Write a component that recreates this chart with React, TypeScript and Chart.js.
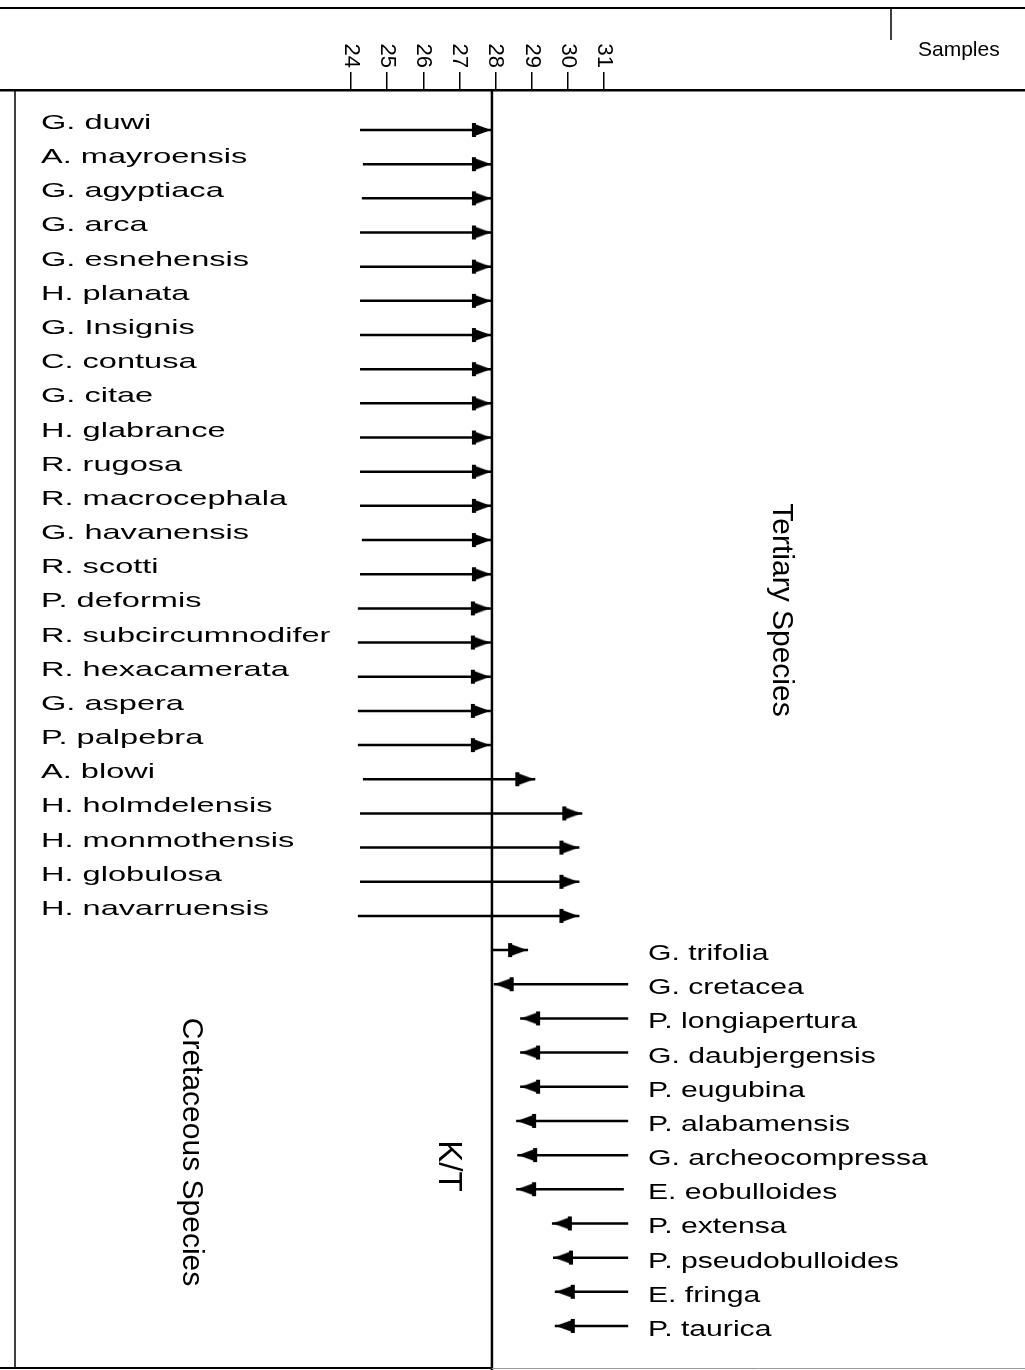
import { useEffect, useRef } from "react";
import { Chart, registerables } from "chart.js";

Chart.register(...registerables);

// ---- data ----
const SAMPLE_TICKS = [24, 25, 26, 27, 28, 29, 30, 31];
const KT_BOUNDARY = 27.9;

const CRET_SPECIES = [
  "G. duwi",
  "A. mayroensis",
  "G. agyptiaca",
  "G. arca",
  "G. esnehensis",
  "H. planata",
  "G. Insignis",
  "C. contusa",
  "G. citae",
  "H. glabrance",
  "R. rugosa",
  "R. macrocephala",
  "G. havanensis",
  "R. scotti",
  "P. deformis",
  "R. subcircumnodifer",
  "R. hexacamerata",
  "G. aspera",
  "P. palpebra",
  "A. blowi",
  "H. holmdelensis",
  "H. monmothensis",
  "H. globulosa",
  "H. navarruensis",
];
const CRET_FROM = [
  24.25, 24.33, 24.3, 24.25, 24.25, 24.25, 24.25, 24.25, 24.25, 24.25, 24.25, 24.25,
  24.3, 24.25, 24.19, 24.19, 24.19, 24.19, 24.19, 24.33, 24.25, 24.25, 24.25, 24.19,
];
const CRET_TO = [
  27.9, 27.9, 27.9, 27.9, 27.9, 27.9, 27.9, 27.9, 27.9, 27.9, 27.9, 27.9,
  27.9, 27.9, 27.87, 27.87, 27.87, 27.87, 27.87, 29.1, 30.4, 30.32, 30.32, 30.32,
];

const TERT_SPECIES = [
  "G. trifolia",
  "G. cretacea",
  "P. longiapertura",
  "G. daubjergensis",
  "P. eugubina",
  "P. alabamensis",
  "G. archeocompressa",
  "E. eobulloides",
  "P. extensa",
  "P. pseudobulloides",
  "E. fringa",
  "P. taurica",
];
const TERT_FROM = [27.9, 31.67, 31.67, 31.67, 31.67, 31.67, 31.67, 31.55, 31.67, 31.67, 31.67, 31.67];
const TERT_TO = [28.9, 27.95, 28.68, 28.68, 28.68, 28.57, 28.6, 28.57, 29.56, 29.59, 29.64, 29.64];

const FONT = '"Liberation Sans", Arial, sans-serif';

function makeHead(): HTMLCanvasElement {
  // arrowhead image; the image centre sits on the end of the range line
  const c = document.createElement("canvas");
  c.width = 44;
  c.height = 18;
  const g = c.getContext("2d")!;
  g.fillStyle = "#000";
  g.beginPath();
  g.moveTo(2, 2);
  g.lineTo(21, 9);
  g.lineTo(2, 16);
  g.closePath();
  g.fill();
  g.fillRect(2, 2, 4, 14);
  return c;
}

export default function App() {
  const ref = useRef<HTMLCanvasElement | null>(null);

  useEffect(() => {
    const canvas = ref.current;
    if (!canvas) return;
    const head = makeHead();

    const rows = [
      ...CRET_SPECIES.map((name, i) => ({ name, from: CRET_FROM[i], to: CRET_TO[i], group: "K" })),
      ...TERT_SPECIES.map((name, i) => ({ name, from: TERT_FROM[i], to: TERT_TO[i], group: "T" })),
    ];
    const n = rows.length;
    const yMin = -1.17;
    const yMax = n - 1 + 1.288;

    const datasets: any[] = rows.map((r, i) => ({
      label: r.name,
      data: [
        { x: r.from, y: i },
        { x: r.to, y: i },
      ],
      showLine: true,
      borderColor: "#000",
      backgroundColor: "#000",
      borderWidth: 2.5,
      borderCapStyle: "butt",
      pointRadius: [0, 6],
      pointHoverRadius: [0, 6],
      pointStyle: head,
      pointRotation: r.to > r.from ? 0 : 180,
      clip: false,
    }));
    datasets.push({
      label: "K/T",
      data: [
        { x: KT_BOUNDARY, y: yMin },
        { x: KT_BOUNDARY, y: yMax },
      ],
      showLine: true,
      borderColor: "#000",
      borderWidth: 2.5,
      pointRadius: 0,
    });

    const decor = {
      id: "decor",
      afterDraw(chart: any) {
        const ctx = chart.ctx as CanvasRenderingContext2D;
        const xs = chart.scales.x;
        const ys = chart.scales.y;
        const W = chart.width;
        const ktX = xs.getPixelForValue(KT_BOUNDARY);
        ctx.save();
        ctx.strokeStyle = "#000";
        ctx.fillStyle = "#000";

        // header frame
        ctx.lineWidth = 2;
        ctx.beginPath();
        ctx.moveTo(0, 8);
        ctx.lineTo(W, 8);
        ctx.stroke();
        ctx.lineWidth = 1.5;
        ctx.beginPath();
        ctx.moveTo(891, 8);
        ctx.lineTo(891, 40);
        ctx.stroke();
        // left border and bottom
        ctx.beginPath();
        ctx.moveTo(15, 90);
        ctx.lineTo(15, 1368);
        ctx.stroke();
        ctx.lineWidth = 2;
        ctx.beginPath();
        ctx.moveTo(0, 1368);
        ctx.lineTo(ktX, 1368);
        ctx.stroke();
        ctx.lineWidth = 1;
        ctx.strokeStyle = "#999";
        ctx.beginPath();
        ctx.moveTo(ktX, 1368.5);
        ctx.lineTo(W, 1368.5);
        ctx.stroke();
        ctx.strokeStyle = "#000";

        // "Samples"
        ctx.font = `21px ${FONT}`;
        ctx.textAlign = "left";
        ctx.textBaseline = "alphabetic";
        ctx.fillText("Samples", 918, 56);

        // sample tick labels (rotated clockwise)
        ctx.font = `22px ${FONT}`;
        for (const t of xs.ticks) {
          const px = xs.getPixelForValue(t.value);
          ctx.save();
          ctx.translate(px, xs.bottom - 22);
          ctx.rotate(Math.PI / 2);
          ctx.textAlign = "right";
          ctx.textBaseline = "middle";
          ctx.fillText(String(t.value), 0, 0);
          ctx.restore();
        }

        // species labels
        rows.forEach((r, i) => {
          const py = ys.getPixelForValue(i);
          ctx.save();
          ctx.textAlign = "left";
          ctx.textBaseline = "alphabetic";
          if (r.group === "K") {
            ctx.font = `21px ${FONT}`;
            ctx.translate(41, py - 1);
            ctx.scale(1.55, 1);
          } else {
            ctx.font = `22px ${FONT}`;
            ctx.translate(648, py + 10);
            ctx.scale(1.37, 1);
          }
          ctx.fillText(r.name, 0, 0);
          ctx.restore();
        });

        // rotated titles
        const vtext = (txt: string, x: number, y: number, size: number) => {
          ctx.save();
          ctx.font = `${size}px ${FONT}`;
          ctx.translate(x, y);
          ctx.rotate(Math.PI / 2);
          ctx.textAlign = "center";
          ctx.textBaseline = "middle";
          ctx.fillText(txt, 0, 0);
          ctx.restore();
        };
        vtext("Tertiary Species", 781, 610, 30);
        vtext("Cretaceous Species", 191, 1152, 30);
        vtext("K/T", 448, 1166, 33);

        ctx.restore();
      },
    };

    const chart = new Chart(canvas, {
      type: "scatter",
      data: { datasets },
      options: {
        animation: false,
        responsive: false,
        devicePixelRatio: 1,
        events: [],
        layout: { autoPadding: false, padding: { top: 8, left: 0, right: 0, bottom: 0 } },
        plugins: { legend: { display: false }, tooltip: { enabled: false } },
        scales: {
          x: {
            type: "linear",
            position: "top",
            min: 14.288,
            max: 42.65,
            afterBuildTicks: (s: any) => {
              s.ticks = SAMPLE_TICKS.map((v) => ({ value: v }));
            },
            afterFit: (s: any) => {
              s.height = 82;
            },
            ticks: { display: false },
            grid: {
              display: true,
              drawOnChartArea: false,
              drawTicks: true,
              tickLength: 18,
              color: "#000",
              lineWidth: 1.5,
            },
            border: { display: true, color: "#000", width: 2.5 },
          },
          y: {
            type: "linear",
            reverse: true,
            min: yMin,
            max: yMax,
            display: false,
          },
        },
      },
      plugins: [decor],
    } as any);

    return () => chart.destroy();
  }, []);

  return (
    <div style={{ position: "absolute", left: 0, top: 0, width: 1025, height: 1370, background: "#fff" }}>
      <canvas ref={ref} width={1025} height={1370} style={{ display: "block" }} />
    </div>
  );
}
